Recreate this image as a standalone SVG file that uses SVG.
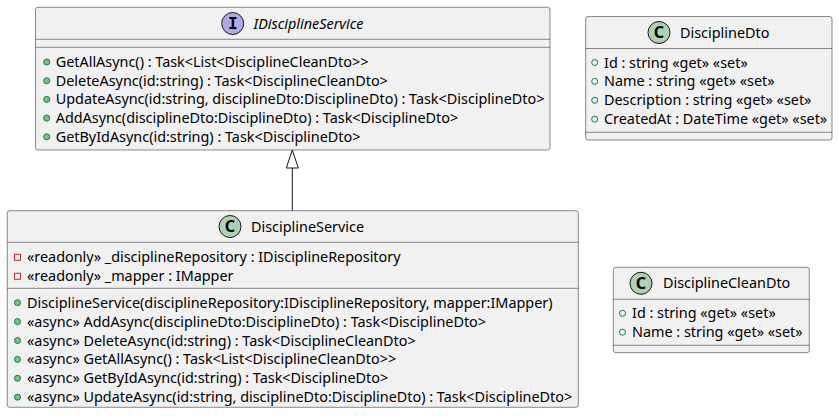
<svg xmlns="http://www.w3.org/2000/svg" width="838" height="416" viewBox="0 0 838 416">
<style>
.box{fill:#F1F1F1;stroke:#181818;stroke-width:0.5}
.sep{stroke:#181818;stroke-width:0.5}
.t{font-family:"Noto Sans","Open Sans",sans-serif;font-size:14.4px;fill:#000}
.ti{font-family:"Noto Sans","Open Sans",sans-serif;font-size:14.4px;font-style:italic;fill:#000}
.cc{fill:#ADD1B2;stroke:#181818;stroke-width:1}
.ic{fill:#B4A7E5;stroke:#181818;stroke-width:1}
.cl{font-family:"Noto Sans","DejaVu Sans",sans-serif;font-size:16px;font-weight:bold;fill:#000;text-anchor:middle}
.il{font-family:"DejaVu Sans Mono",monospace;font-size:16px;font-weight:bold;fill:#000;text-anchor:middle}
.pub{fill:#84BE84;stroke:#038048;stroke-width:1}
.pubf{fill:none;stroke:#038048;stroke-width:1}
.priv{fill:none;stroke:#C82930;stroke-width:1}
.edge{stroke:#181818;stroke-width:1;fill:none}
</style>
<g id="connectors">
<line class="edge" x1="292.3" y1="210.7" x2="292.3" y2="168"/>
<polygon class="edge" points="292.3,150 286.3,168 298.3,168"/>
</g>
<g id="IDisciplineService">
<rect class="box" x="35.5" y="7.3" width="514.5" height="142.7" rx="2.5"/>
<circle class="ic" cx="232.7" cy="23.5" r="11"/>
<text class="il" x="232.7" y="29.2">I</text>
<text class="ti" x="253.5" y="28.5">IDisciplineService</text>
<line class="sep" x1="35.5" y1="39.3" x2="550" y2="39.3"/>
<line class="sep" x1="35.5" y1="47.3" x2="550" y2="47.3"/>
<circle class="pub" cx="46.7" cy="62" r="3"/>
<text class="t" x="55.7" y="67">GetAllAsync() : Task&lt;List&lt;DisciplineCleanDto&gt;&gt;</text>
<circle class="pub" cx="46.7" cy="80.7" r="3"/>
<text class="t" x="55.7" y="85.7">DeleteAsync(id:string) : Task&lt;DisciplineCleanDto&gt;</text>
<circle class="pub" cx="46.7" cy="99.4" r="3"/>
<text class="t" x="55.7" y="104.4">UpdateAsync(id:string, disciplineDto:DisciplineDto) : Task&lt;DisciplineDto&gt;</text>
<circle class="pub" cx="46.7" cy="118.1" r="3"/>
<text class="t" x="55.7" y="123.1">AddAsync(disciplineDto:DisciplineDto) : Task&lt;DisciplineDto&gt;</text>
<circle class="pub" cx="46.7" cy="136.8" r="3"/>
<text class="t" x="55.7" y="141.8">GetByIdAsync(id:string) : Task&lt;DisciplineDto&gt;</text>
</g>
<g id="DisciplineService">
<rect class="box" x="7.3" y="210.7" width="571" height="196.6" rx="2.5"/>
<circle class="cc" cx="230" cy="226.5" r="11"/>
<text class="cl" x="230" y="232.2">C</text>
<text class="t" x="251" y="231.5">DisciplineService</text>
<line class="sep" x1="7.3" y1="242.3" x2="578.3" y2="242.3"/>
<rect class="priv" x="14.5" y="254.3" width="6" height="6"/>
<text class="t" x="27" y="262.3">«readonly» _disciplineRepository : IDisciplineRepository</text>
<rect class="priv" x="14.5" y="273.3" width="6" height="6"/>
<text class="t" x="27" y="281.3">«readonly» _mapper : IMapper</text>
<line class="sep" x1="7.3" y1="288.3" x2="578.3" y2="288.3"/>
<circle class="pub" cx="17.5" cy="302.7" r="3"/>
<text class="t" x="27" y="307.7">DisciplineService(disciplineRepository:IDisciplineRepository, mapper:IMapper)</text>
<circle class="pub" cx="17.5" cy="321.6" r="3"/>
<text class="t" x="27" y="326.6">«async» AddAsync(disciplineDto:DisciplineDto) : Task&lt;DisciplineDto&gt;</text>
<circle class="pub" cx="17.5" cy="340.5" r="3"/>
<text class="t" x="27" y="345.5">«async» DeleteAsync(id:string) : Task&lt;DisciplineCleanDto&gt;</text>
<circle class="pub" cx="17.5" cy="359.4" r="3"/>
<text class="t" x="27" y="364.4">«async» GetAllAsync() : Task&lt;List&lt;DisciplineCleanDto&gt;&gt;</text>
<circle class="pub" cx="17.5" cy="378.3" r="3"/>
<text class="t" x="27" y="383.3">«async» GetByIdAsync(id:string) : Task&lt;DisciplineDto&gt;</text>
<circle class="pub" cx="17.5" cy="397.2" r="3"/>
<text class="t" x="27" y="402.2">«async» UpdateAsync(id:string, disciplineDto:DisciplineDto) : Task&lt;DisciplineDto&gt;</text>
</g>
<g id="DisciplineDto">
<rect class="box" x="585.7" y="16.5" width="246.3" height="123.5" rx="2.5"/>
<circle class="cc" cx="659" cy="32.5" r="11"/>
<text class="cl" x="659" y="38.2">C</text>
<text class="t" x="680" y="37.5">DisciplineDto</text>
<line class="sep" x1="585.7" y1="48.5" x2="832" y2="48.5"/>
<circle class="pubf" cx="594.7" cy="62.5" r="3"/>
<text class="t" x="604" y="67.5">Id : string «get» «set»</text>
<circle class="pubf" cx="594.7" cy="81.4" r="3"/>
<text class="t" x="604" y="86.4">Name : string «get» «set»</text>
<circle class="pubf" cx="594.7" cy="100.3" r="3"/>
<text class="t" x="604" y="105.3">Description : string «get» «set»</text>
<circle class="pubf" cx="594.7" cy="119.2" r="3"/>
<text class="t" x="604" y="124.2">CreatedAt : DateTime «get» «set»</text>
<line class="sep" x1="585.7" y1="132.3" x2="832" y2="132.3"/>
</g>
<g id="DisciplineCleanDto">
<rect class="box" x="613.3" y="267.3" width="196" height="85.4" rx="2.5"/>
<circle class="cc" cx="641" cy="283.3" r="11"/>
<text class="cl" x="641" y="289">C</text>
<text class="t" x="663" y="288.3">DisciplineCleanDto</text>
<line class="sep" x1="613.3" y1="299.3" x2="809.3" y2="299.3"/>
<circle class="pubf" cx="622.5" cy="313.3" r="3"/>
<text class="t" x="632" y="318.3">Id : string «get» «set»</text>
<circle class="pubf" cx="622.5" cy="332.2" r="3"/>
<text class="t" x="632" y="337.2">Name : string «get» «set»</text>
<line class="sep" x1="613.3" y1="345.3" x2="809.3" y2="345.3"/>
</g>
</svg>
